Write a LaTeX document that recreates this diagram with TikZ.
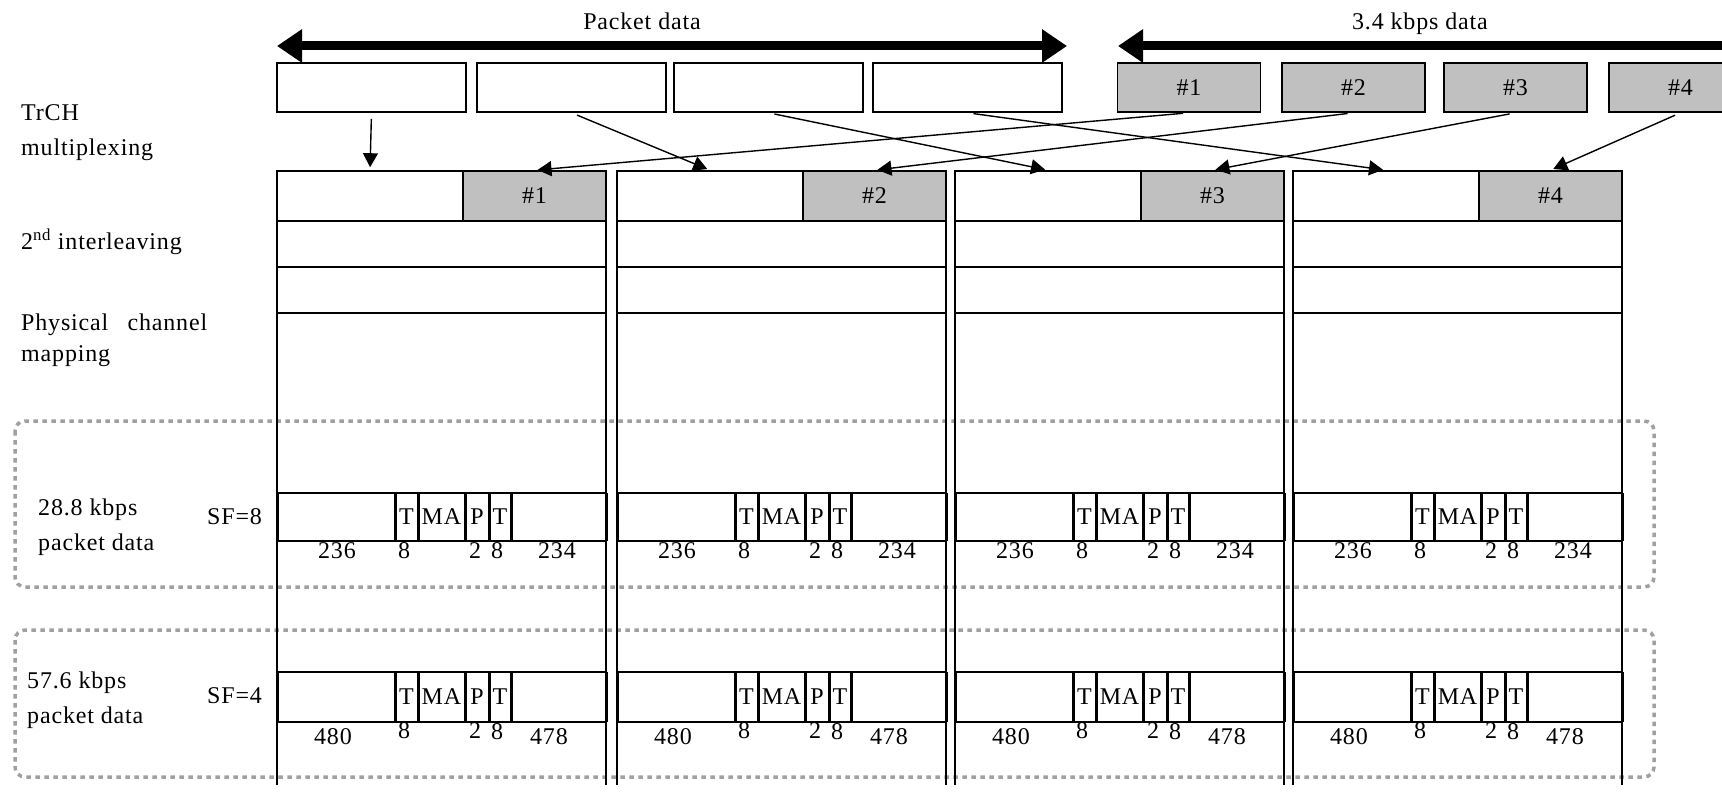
\documentclass[tikz,border=0pt]{standalone}
\usepackage{fontspec}
\setmainfont{Liberation Serif}[LetterSpace=3.5]
\usepackage{xcolor}
\usepackage{tikz}
\usetikzlibrary{arrows.meta,positioning}

\definecolor{slotgray}{RGB}{192,192,192}
\definecolor{dotgray}{RGB}{160,160,160}

\begin{document}
\begin{tikzpicture}[x=1pt, y=-1pt,
    font=\fontsize{24}{29}\selectfont,
    box/.style={draw, line width=1.6pt, inner sep=0pt},
    pkt/.style={box, minimum width=189pt, minimum height=49pt},
    tch/.style={box, fill=slotgray, minimum width=143pt, minimum height=49pt},
    arrow/.style={-{Triangle[length=14pt,width=15pt]}, line width=1.4pt,
                  shorten <=6pt, shorten >=3pt},
    fat/.style={{Triangle[length=25pt,width=32pt]}-{Triangle[length=25pt,width=32pt]},
                line width=9pt},
    group/.style={draw=dotgray, line width=3.5pt, dash pattern=on 4.5pt off 4.5pt,
                  rounded corners=10pt},
    field/.style={line width=3pt},
    lbl/.style={anchor=base west, inner sep=0pt}
]
\useasboundingbox (0,0) rectangle (1722,802);
\clip (0,0) rectangle (1722,802);

% row labels
\node[lbl] (trch) at (21,121) {TrCH};
\node[lbl] (mux) at (21,156) {multiplexing};
\node[lbl] (ilv) at (21,250) {2\textsuperscript{nd} interleaving};
\node[lbl] (phy) at (21,331) {\makebox[186pt][s]{Physical channel}};
\node[lbl] (map) at (21,362) {mapping};
\node[lbl] (r288) at (38,515) {28.8 kbps};
\node[lbl] (p288) at (38,550) {packet data};
\node[lbl] (r576) at (27,688) {57.6 kbps};
\node[lbl] (p576) at (27,723) {packet data};
\node[lbl] (sf8) at (207,524) {SF=8};
\node[lbl] (sf4) at (207,703) {SF=4};

% dotted groups
\draw[group] (15,421) rectangle (1654,587);
\draw[group] (15,630) rectangle (1654,777);

% transport channels
\node[anchor=base] (pdata) at (642,30) {Packet data};
\node[anchor=base] (sdata) at (1420,30) {3.4 kbps data};
\coordinate (pl) at (277,46);
\coordinate (pr) at (1067,46);
\coordinate (sl) at (1118,46);
\coordinate (sr) at (1790,46);
\draw[fat] (pl) -- (pr);
\draw[fat] (sl) -- (sr);

\node[pkt] (p1) at (371.5,87.5) {};
\node[pkt] (p2) at (571.5,87.5) {};
\node[pkt] (p3) at (768.5,87.5) {};
\node[pkt] (p4) at (967.5,87.5) {};
\node[tch] (d1) at (1189,87.5) {\#1};
\node[tch] (d2) at (1353.5,87.5) {\#2};
\node[tch] (d3) at (1515.5,87.5) {\#3};
\node[tch] (d4) at (1680.5,87.5) {\#4};

% radio frames
\foreach \k/\x in {1/277,2/617,3/955,4/1293} {
  \draw[line width=1.6pt] (\x,171) -- (\x,785) (\x+329,171) -- (\x+329,785);
  \node[box, minimum width=186pt, minimum height=50pt] (w\k) at (\x+93,196) {};
  \node[box, fill=slotgray, minimum width=143pt, minimum height=50pt]
    (g\k) at (\x+257.5,196) {\#\k};
  \draw[line width=1.6pt] (\x,267) rectangle (\x+329,313);
  % slots for SF=8 and SF=4
  \foreach \r/\ya/\yb/\ym in {a/493/541/517, b/672/722/697} {
    \draw[line width=1.6pt] (\x,\ya) rectangle (\x+329,\yb);
    \draw[field] (\x,\ya) -- (\x,\yb) (\x+329,\ya) -- (\x+329,\yb);
    \foreach \f in {118,141,188,212,234}
      \draw[field] (\x+\f,\ya) -- (\x+\f,\yb);
    \node (ta\r\k) at (\x+129.5,\ym) {T};
    \node (ma\r\k) at (\x+164.5,\ym) {MA};
    \node (pi\r\k) at (\x+200,\ym) {P};
    \node (tb\r\k) at (\x+223,\ym) {T};
  }
  \node (na\k) at (\x+60,551) {236};
  \node (nb\k) at (\x+127,551) {8};
  \node (nc\k) at (\x+198,551) {2};
  \node (nd\k) at (\x+220,551) {8};
  \node (ne\k) at (\x+280,551) {234};
  \node (ma\k) at (\x+56,737) {480};
  \node (mb\k) at (\x+127,731) {8};
  \node (mc\k) at (\x+198,731) {2};
  \node (md\k) at (\x+220,732) {8};
  \node (me\k) at (\x+272,737) {478};
}

% multiplexing onto the frames
\draw[arrow] (p1.south) -- (w1.north);
\draw[arrow] (p2.south) -- (w2.north);
\draw[arrow] (p3.south) -- (w3.north);
\draw[arrow] (p4.south) -- (w4.north);
\draw[arrow] (d1.south) -- (g1.north);
\draw[arrow] (d2.south) -- (g2.north);
\draw[arrow] (d3.south) -- (g3.north);
\draw[arrow] (d4.south) -- (g4.north);
\end{tikzpicture}
\end{document}
